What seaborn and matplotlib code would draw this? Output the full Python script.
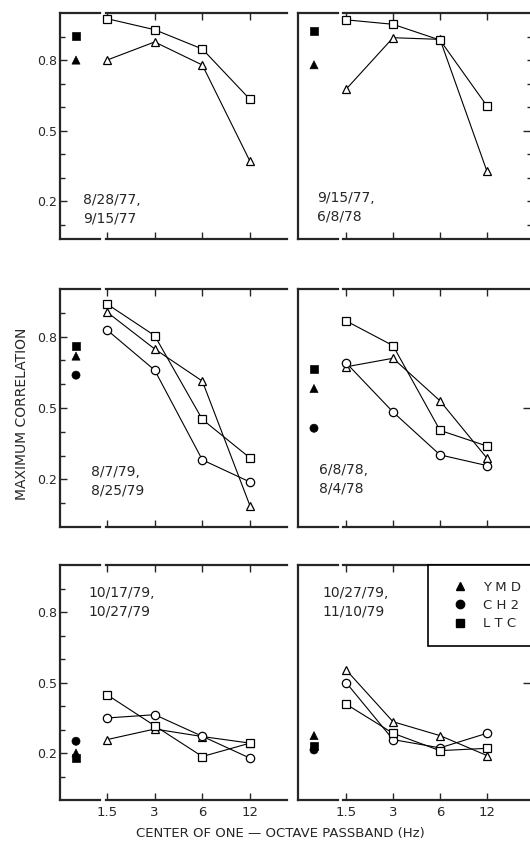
import matplotlib
matplotlib.use('Agg')
import matplotlib.pyplot as plt
from matplotlib.lines import Line2D
from matplotlib.ticker import FixedLocator, NullLocator
import pandas as pd
import seaborn as sns

# centre frequencies of the one-octave passbands (Hz)
freqs = [1.5, 3, 6, 12]
freq_labels = ['1.5', '3', '6', '12']

stations = ['YMD', 'CH2', 'LTC']
station_markers = {'YMD': '^', 'CH2': 'o', 'LTC': 's'}

# date pair of each panel (left-right, top-bottom)
date_pairs = ['8/28/77,\n9/15/77', '9/15/77,\n6/8/78',
              '8/7/79,\n8/25/79', '6/8/78,\n8/4/78',
              '10/17/79,\n10/27/79', '10/27/79,\n11/10/79']

# maximum correlation per passband (open symbols), None = no data
ymd_band = [[0.80, 0.877, 0.779, 0.37],
            [0.676, 0.895, 0.888, 0.327],
            [0.903, 0.748, 0.613, 0.089],
            [0.673, 0.709, 0.53, 0.289],
            [0.257, 0.302, 0.27, 0.242],
            [0.554, 0.333, 0.274, 0.189]]
ch2_band = [None,
            None,
            [0.828, 0.659, 0.282, 0.189],
            [0.69, 0.483, 0.303, 0.258],
            [0.349, 0.363, 0.271, 0.178],
            [0.50, 0.257, 0.222, 0.284]]
ltc_band = [[0.976, 0.929, 0.847, 0.633],
            [0.971, 0.952, 0.885, 0.605],
            [0.937, 0.804, 0.452, 0.29],
            [0.866, 0.762, 0.406, 0.34],
            [0.448, 0.316, 0.185, 0.242],
            [0.408, 0.284, 0.21, 0.22]]

# maximum correlation of the unfiltered records (filled symbols)
ymd_broad = [0.80, 0.78, 0.718, 0.582, 0.20, 0.274]
ch2_broad = [None, None, 0.638, 0.415, 0.25, 0.213]
ltc_broad = [0.904, 0.924, 0.761, 0.662, 0.178, 0.231]

# build long tables
band_rows, broad_rows = [], []
for st, band, broad in zip(stations, [ymd_band, ch2_band, ltc_band],
                           [ymd_broad, ch2_broad, ltc_broad]):
    for p in range(len(date_pairs)):
        if band[p] is not None:
            for f, v in zip(freqs, band[p]):
                band_rows.append({'panel': p, 'station': st, 'freq': f, 'corr': v})
        if broad[p] is not None:
            broad_rows.append({'panel': p, 'station': st, 'pos': 0, 'corr': broad[p]})
band_df = pd.DataFrame(band_rows)
broad_df = pd.DataFrame(broad_rows)

sns.set_style('ticks')
plt.rcParams['font.family'] = ['DejaVu Sans']
plt.rcParams['axes.linewidth'] = 1.6

W, H = 530, 841
fig = plt.figure(figsize=(W / 100, H / 100), dpi=100)


def rect(x0, x1, y0, y1):
    return [x0 / W, 1 - y1 / H, (x1 - x0) / W, (y1 - y0) / H]


# layout in pixels
rows_px = [(13, 239), (289, 527), (565, 800)]
ylims = [(0.04, 1.0), (0.0, 1.0), (0.0, 1.0)]
side_px = [(60, 100), (298, 338)]
main_px = [(106, 287), (343, 531)]
xlims = [(1.478, 20.55), (1.434, 22.96)]
label_px = [(83, 193), (317, 191), (91, 465), (319, 463), (88, 586), (322, 586)]

black = {s: 'black' for s in stations}
major_y = [0.2, 0.5, 0.8]
minor_y = [0.1, 0.3, 0.4, 0.6, 0.7, 0.9]

for p in range(len(date_pairs)):
    row, col = divmod(p, 2)
    y0, y1 = rows_px[row]
    ax_s = fig.add_axes(rect(side_px[col][0], side_px[col][1], y0, y1))
    ax_m = fig.add_axes(rect(main_px[col][0], main_px[col][1], y0, y1))

    # passband curves
    ax_m.set_xscale('log')
    sub = band_df[band_df['panel'] == p]
    sns.lineplot(data=sub, x='freq', y='corr', hue='station', style='station',
                 markers=station_markers, dashes=False, palette=black,
                 estimator=None, sort=False, legend=False, ax=ax_m,
                 lw=0.8, markersize=6, markerfacecolor='white',
                 markeredgecolor='black', markeredgewidth=0.9,
                 clip_on=False, zorder=3)

    # unfiltered values
    sub_b = broad_df[broad_df['panel'] == p]
    sns.scatterplot(data=sub_b, x='pos', y='corr', style='station',
                    markers=station_markers, color='black', edgecolor='black',
                    s=34, legend=False, ax=ax_s, clip_on=False)

    for ax in (ax_s, ax_m):
        ax.set_ylim(*ylims[row])
        ax.set_xlabel('')
        ax.set_ylabel('')
        ax.spines['right'].set_visible(False)
    ax_m.spines['left'].set_visible(False)
    ax_s.set_xlim(-1, 1.5)
    ax_s.set_xticks([])
    ax_m.set_xlim(*xlims[col])

    # x ticks on top and bottom
    ax_m.xaxis.set_major_locator(FixedLocator(freqs))
    ax_m.xaxis.set_minor_locator(NullLocator())
    ax_m.set_xticklabels(freq_labels if row == 2 else [''] * len(freqs))
    ax_m.tick_params(axis='x', which='major', direction='in', top=True, bottom=True,
                     length=5, width=1, pad=4, labelsize=9.5)

    # y ticks
    if col == 0:
        ax_s.set_yticks(major_y)
        ax_s.set_yticklabels(['%.1f' % v for v in major_y])
        ax_s.set_yticks(minor_y, minor=True)
        ax_s.tick_params(axis='y', which='major', direction='in', length=5,
                         width=1, pad=2, labelsize=9)
        ax_s.tick_params(axis='y', which='minor', direction='in', length=3.5, width=1)
        ax_m.set_yticks([])
    else:
        ax_s.set_yticks([])
        ax_m.set_yticks([0.5])
        ax_m.set_yticklabels([])
        if row == 0:
            ax_m.set_yticks([0.1, 0.2, 0.3, 0.4, 0.6, 0.7, 0.8, 0.9], minor=True)
        ax_m.tick_params(axis='y', which='both', direction='in', left=False, right=True,
                         labelleft=False, labelright=False, width=1)
        ax_m.tick_params(axis='y', which='major', length=5.5)
        ax_m.tick_params(axis='y', which='minor', length=3)

    lx, ly = label_px[p]
    fig.text(lx / W, 1 - ly / H, date_pairs[p], ha='left', va='top',
             fontsize=10, linespacing=1.45)

    if p == 5:
        handles = [Line2D([], [], marker=station_markers[s], color='black',
                          linestyle='none', markersize=6) for s in stations]
        leg = ax_m.legend(handles, [' '.join(s) for s in stations],
                          loc='upper left',
                          bbox_to_anchor=((428 - main_px[1][0]) / (main_px[1][1] - main_px[1][0]), 1.0),
                          borderaxespad=0, borderpad=1.2, handlelength=2.5,
                          handletextpad=0.5, labelspacing=0.4, fontsize=9.5,
                          fancybox=False, framealpha=1, edgecolor='black')
        leg.get_frame().set_linewidth(1.2)
        leg.set_zorder(5)

fig.text(22 / W, 1 - 414 / H, 'MAXIMUM CORRELATION', rotation=90,
         ha='center', va='center', fontsize=10)
fig.text(280 / W, 1 - 833 / H, 'CENTER OF ONE \u2014 OCTAVE PASSBAND (Hz)',
         ha='center', va='center', fontsize=9.5)

fig.savefig('out.png', dpi=100)
